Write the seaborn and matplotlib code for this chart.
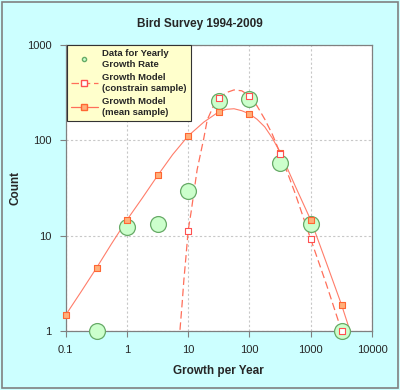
import numpy as np
import pandas as pd
import matplotlib
matplotlib.use('Agg')
import matplotlib.pyplot as plt
import seaborn as sns
from matplotlib.lines import Line2D
from matplotlib.patches import Rectangle

# survey data (yearly growth rate)
obs_x = [0.32, 1, 3.2, 10, 32, 100, 320, 1000, 3200]
obs_y = [1.0, 12.3, 13.3, 29.5, 261, 270, 57.5, 13.3, 1.0]

# model sample points (markers)
mod_x = [0.1, 0.32, 1, 3.2, 10, 32, 100, 320, 1000, 3200]
mean_y = [1.47, 4.6, 14.6, 43, 111, 200, 189, 74, 14.6, 1.87]
cons_x = [10, 32, 100, 320, 1000, 3200]
cons_y = [11.3, 277, 292, 72, 9.2, 1.0]

# model curves
mean_cx = [0.085, 0.1, 0.18, 0.32, 0.56, 1, 1.8, 3.2, 5.6, 10, 18, 32, 42, 56, 75,
           100, 133, 178, 237, 320, 560, 1000, 1800, 3200, 4500]
mean_cy = [1.25, 1.47, 2.6, 4.6, 8.2, 14.6, 25, 43, 71, 111, 155, 200, 211, 214, 204,
           189, 166, 138, 105, 74, 33, 14.6, 5.2, 1.87, 0.95]
cons_cx = [7.0, 7.3, 8, 8.5, 9.2, 10, 11.2, 14, 18, 20.5, 25.7, 32, 42, 56, 75,
           100, 133, 178, 237, 320, 560, 1000, 1800, 3200]
cons_cy = [0.6, 0.97, 2.0, 3.4, 6.0, 11.3, 17.9, 49, 105, 164, 226, 277, 316, 337, 330,
           292, 229, 166, 115, 72, 27.5, 9.2, 3.1, 1.0]

sns.set_style('white')
plt.rcParams['font.family'] = ['Liberation Sans', 'DejaVu Sans']

fig = plt.figure(figsize=(4, 3.9), dpi=100, facecolor='#CCFFFF')
fig.patches.append(Rectangle((0.004, 0.004), 0.99, 0.99, transform=fig.transFigure,
                             fill=False, edgecolor='#808080', lw=1.2))
ax = fig.add_axes([0.164, 0.151, 0.766, 0.734])
ax.set_facecolor('white')

line_col = '#FF6F5A'
sns.lineplot(x=cons_cx, y=cons_cy, ax=ax, color=line_col, lw=0.9, sort=False,
             linestyle=(0, (6, 3)), estimator=None)
sns.lineplot(x=mean_cx, y=mean_cy, ax=ax, color=line_col, lw=0.8, sort=False,
             estimator=None, alpha=0.9)
sns.scatterplot(x=obs_x, y=obs_y, ax=ax, s=130, color='#CCFFCC', edgecolor='#66AA66',
                linewidth=0.9, zorder=3, clip_on=False)
sns.scatterplot(x=mod_x, y=mean_y, ax=ax, marker='s', s=22, color='#FFB07A',
                edgecolor='#FF6633', linewidth=0.8, zorder=4, clip_on=False)
sns.scatterplot(x=cons_x, y=cons_y, ax=ax, marker='s', s=22, color='white',
                edgecolor='#FF5050', linewidth=0.8, zorder=4, clip_on=False)

ax.set_xscale('log')
ax.set_yscale('log')
ax.set_xlim(0.1, 10000)
ax.set_ylim(1, 1000)
ax.set_xticks([0.1, 1, 10, 100, 1000, 10000])
ax.set_xticklabels(['0.1', '1', '10', '100', '1000', '10000'])
ax.set_yticks([1, 10, 100, 1000])
ax.set_yticklabels(['1', '10', '100', '1000'])
ax.minorticks_off()
ax.tick_params(axis='both', which='major', length=4, width=0.8, color='#808080',
               labelsize=8, direction='out', bottom=True, left=True, pad=6)
ax.grid(True, which='major', color='#C8C8C8', linestyle=(0, (2, 2)), lw=0.8)
for s in ax.spines.values():
    s.set_color('#808080')
    s.set_linewidth(0.9)

ax.set_xlabel('Growth per Year', fontsize=8.5, fontweight='bold')
ax.set_ylabel('Count', fontsize=8.5, fontweight='bold')
ax.xaxis.set_label_coords(0.5, -0.119)
ax.yaxis.set_label_coords(-0.143, 0.5)
fig.suptitle('Bird Survey 1994-2009', fontsize=8.5, fontweight='bold', y=0.955)

handles = [
    Line2D([], [], lw=0, marker='o', ms=3, mfc='#CCFFCC', mec='#66AA66'),
    Line2D([], [], color=line_col, lw=0.9, linestyle=(0, (6, 3)), marker='s', ms=4,
           mfc='white', mec='#FF5050'),
    Line2D([], [], color=line_col, lw=0.9, marker='s', ms=4, mfc='#FFB07A', mec='#FF6633'),
]
labels = ['Data for Yearly\nGrowth Rate', 'Growth Model\n(constrain sample)',
          'Growth Model\n(mean sample)']
leg = ax.legend(handles, labels, loc='upper left', bbox_to_anchor=(0.004, 1.0),
                borderaxespad=0, fontsize=6.8, frameon=True, fancybox=False,
                facecolor='#FFFFCC', edgecolor='#333333', framealpha=1,
                handlelength=2.8, labelspacing=0.5, borderpad=0.45, handletextpad=0.5)
leg.get_frame().set_linewidth(0.8)
leg.set_zorder(5)
for t in leg.get_texts():
    t.set_fontweight('bold')

fig.savefig('out.png', dpi=100, facecolor=fig.get_facecolor())
